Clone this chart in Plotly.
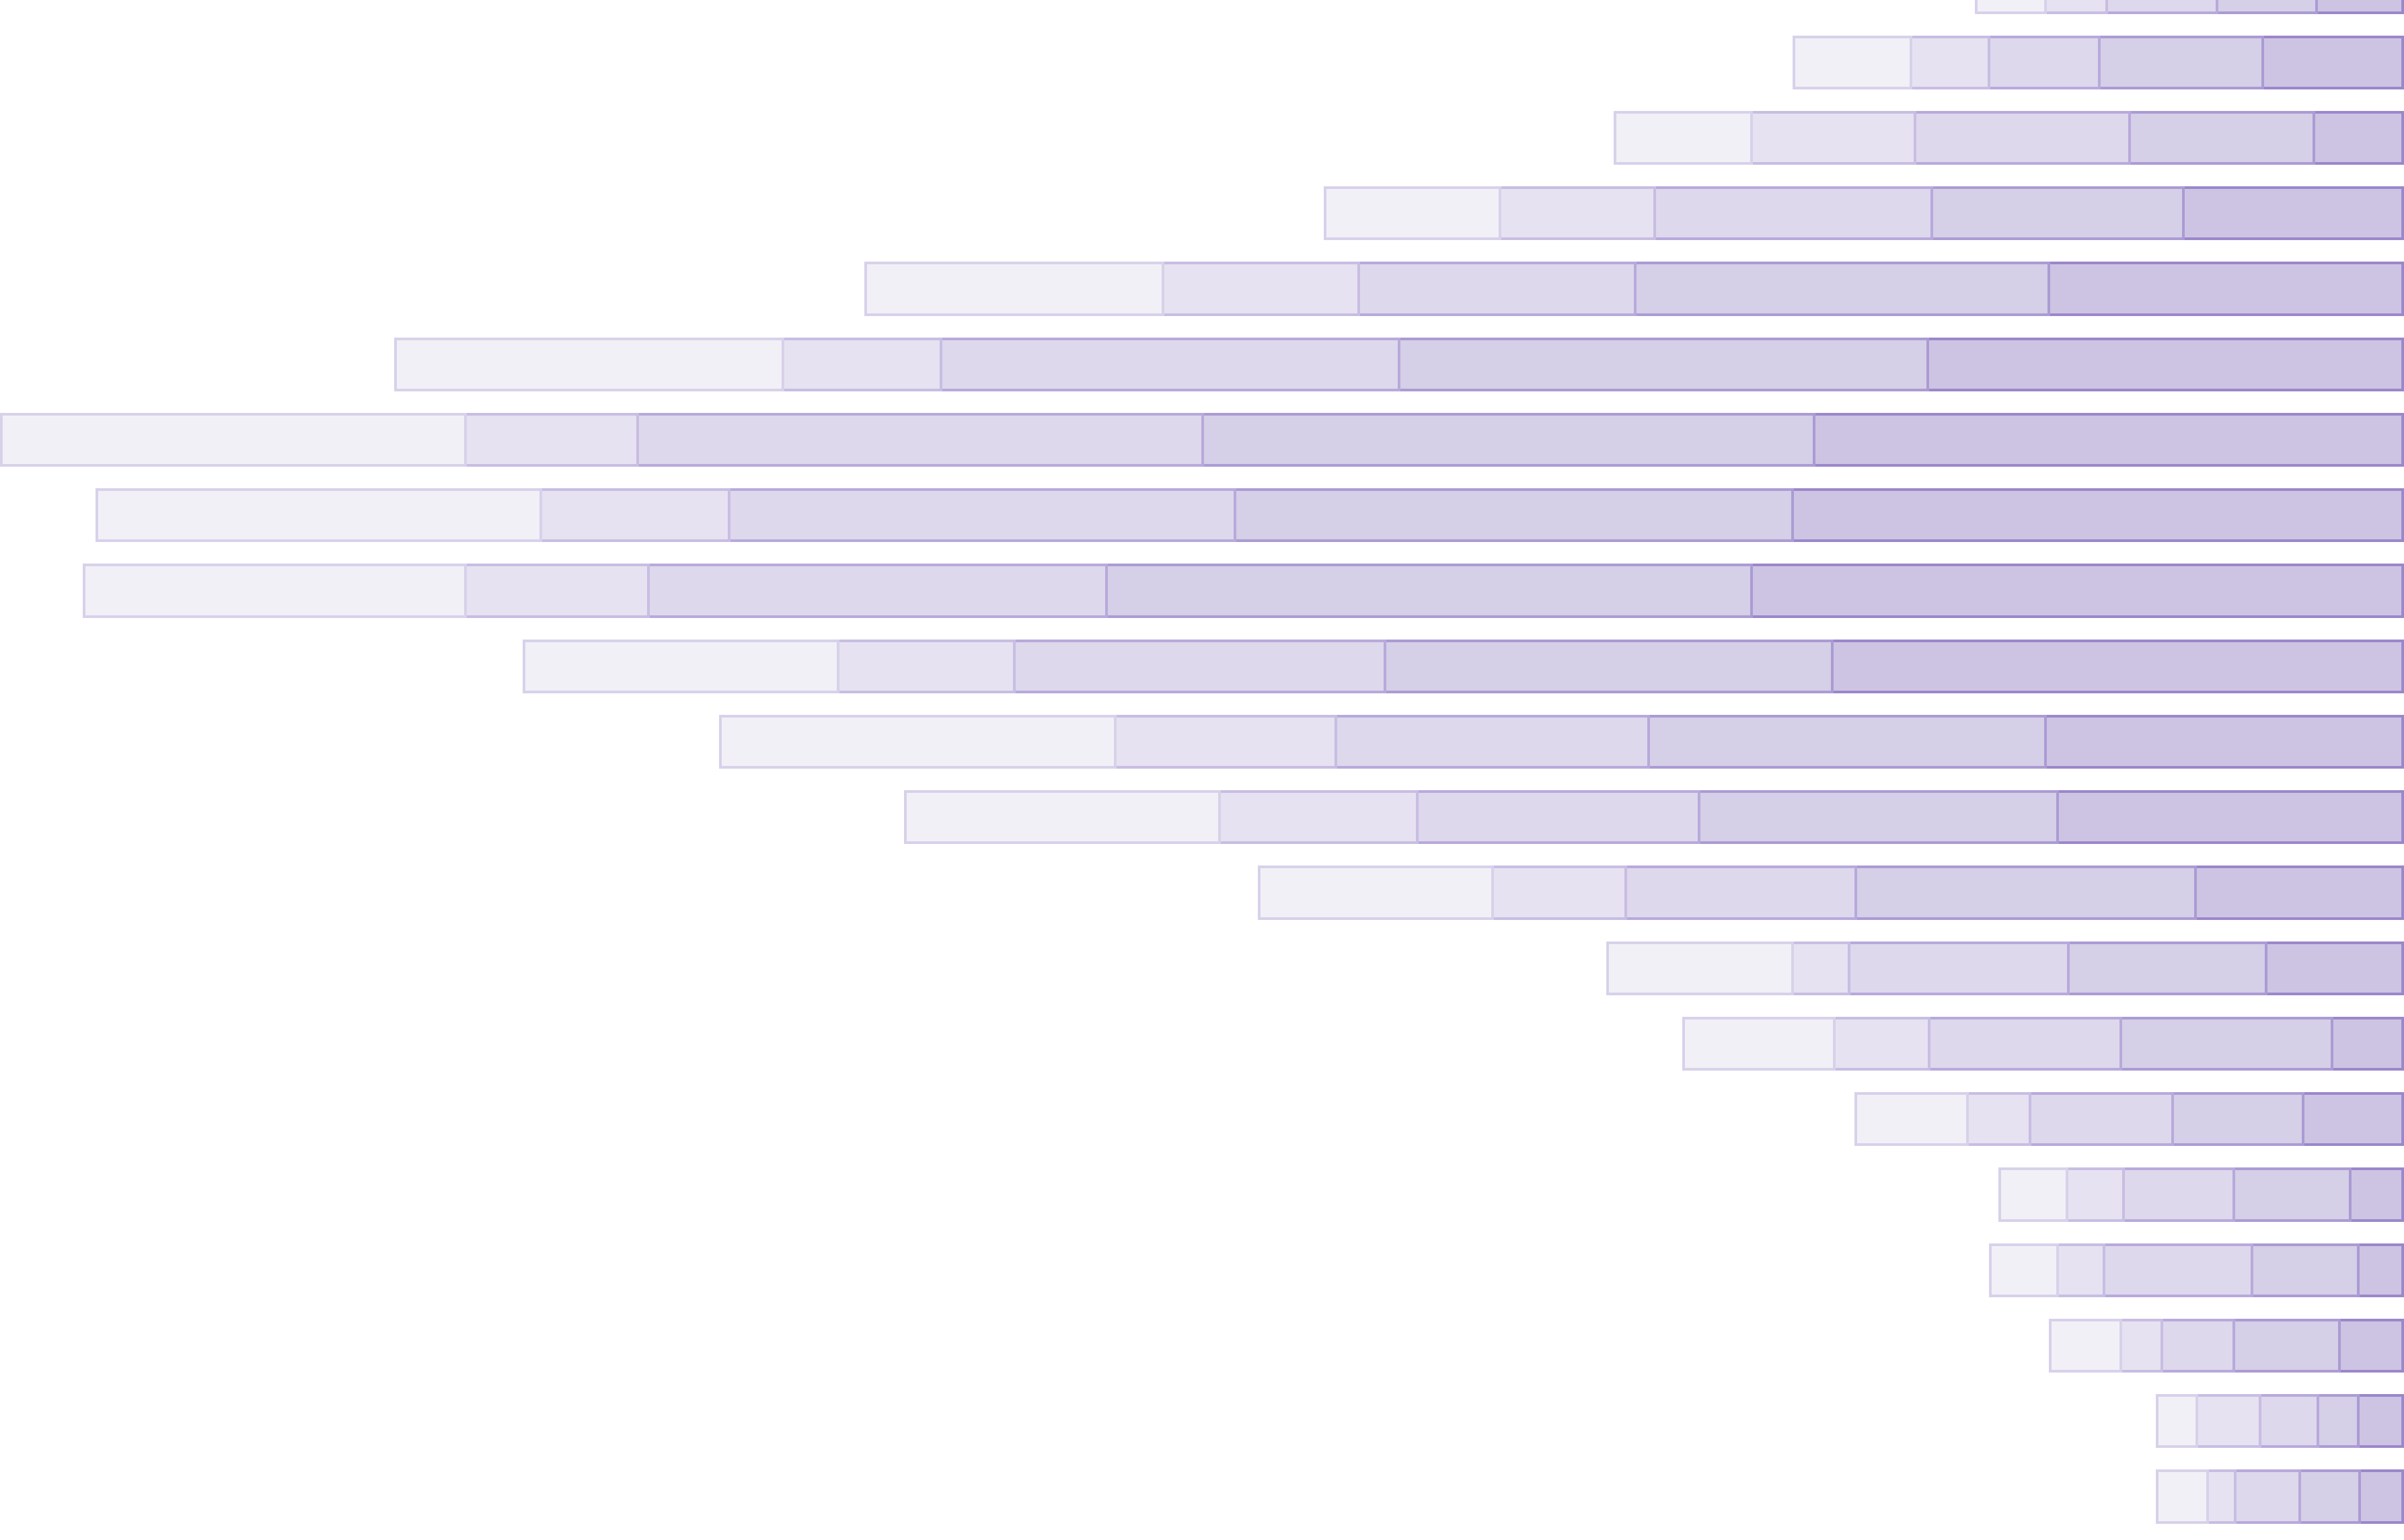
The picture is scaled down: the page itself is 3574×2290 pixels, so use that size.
import plotly.graph_objects as go

# Rows listed top to bottom (the top row is partly cut off in the reference)
rows = [f"R{i+1}" for i in range(21)]

# Segment widths, right-most (darkest) first, in arbitrary units
seg5 = [56, 91, 58, 143, 231, 310, 384, 398, 425, 372, 233, 225, 135, 89, 46, 65, 34, 29, 41, 29, 28]
seg4 = [65, 107, 120, 164, 270, 345, 399, 364, 421, 292, 259, 234, 222, 129, 138, 85, 76, 69, 69, 26, 39]
seg3 = [72, 72, 140, 181, 180, 299, 369, 330, 299, 242, 204, 184, 150, 143, 125, 93, 72, 97, 47, 38, 42]
seg2 = [40, 51, 107, 101, 128, 103, 112, 123, 119, 115, 144, 129, 87, 37, 62, 41, 37, 30, 27, 41, 18]
seg1 = [45, 76, 89, 114, 194, 253, 303, 290, 249, 205, 258, 205, 152, 121, 98, 73, 44, 44, 46, 26, 33]

segments = [seg5, seg4, seg3, seg2, seg1]
fills = ["#cdc4e3", "#d5cfe7", "#ddd8ec", "#e6e2f1", "#f1f0f7"]
borders = ["#9b87cb", "#ab9bd4", "#b8a9dc", "#c8bde2", "#d8d1ea"]

fig = go.Figure()
for vals, fc, lc in zip(segments, fills, borders):
    fig.add_trace(go.Bar(
        y=rows, x=vals, orientation="h",
        marker=dict(color=fc, line=dict(color=lc, width=4)),
        hoverinfo="skip", showlegend=False,
    ))

fig.update_layout(
    barmode="stack",
    bargap=0.32,
    width=3574, height=2290,
    margin=dict(l=0, r=0, t=0, b=0),
    paper_bgcolor="white", plot_bgcolor="white",
    xaxis=dict(range=[1568, -1], visible=False, showgrid=False, zeroline=False),
    yaxis=dict(range=[20.575, 0.174], visible=False, showgrid=False, zeroline=False,
               type="category", categoryorder="array", categoryarray=rows),
)
fig.write_html(
    "out.html",
    config={"displayModeBar": False},
    post_script="document.body.style.margin='0';document.body.style.overflow='hidden';",
)
